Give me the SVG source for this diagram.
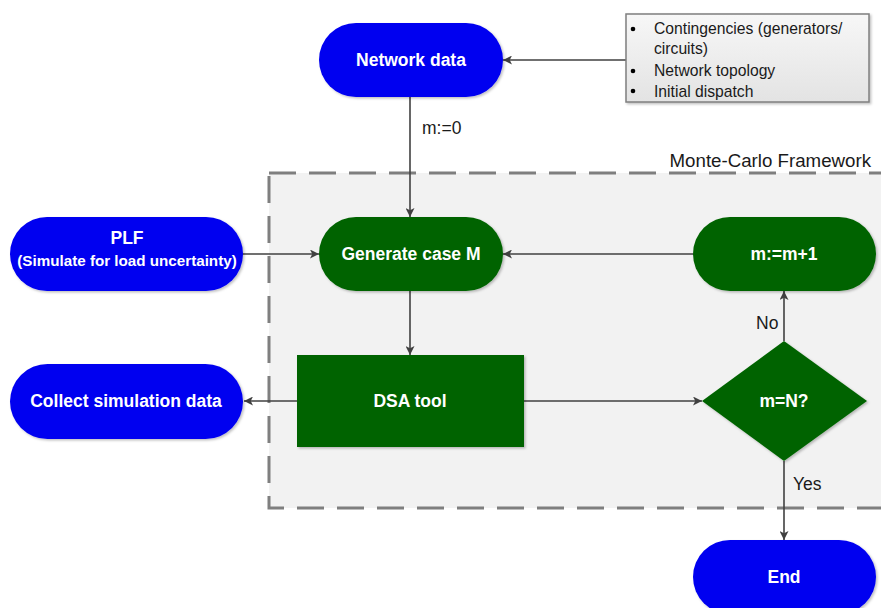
<svg xmlns="http://www.w3.org/2000/svg" width="881" height="608" viewBox="0 0 881 608">
  <style>
    .blue { fill: #0000f0; }
    .green { fill: #006400; }
    .lbl { font-family: "Liberation Sans", Arial, sans-serif; font-weight: bold; font-size: 17.5px; fill: #ffffff; text-anchor: middle; }
    .note { font-family: "Liberation Sans", Arial, sans-serif; font-size: 17.5px; fill: #1a1a1a; }
    .bullet { font-family: "Liberation Sans", Arial, sans-serif; font-size: 15.7px; fill: #1a1a1a; }
    .edge { stroke: #404040; stroke-width: 1.6; fill: none; marker-end: url(#arrow); }
  </style>
  <defs>
    <marker id="arrow" viewBox="0 0 10 10" refX="10" refY="5" markerWidth="9" markerHeight="9" markerUnits="userSpaceOnUse" orient="auto">
      <path d="M0,0 L10,5 L0,10 L2.5,5 Z" fill="#404040"/>
    </marker>
    <linearGradient id="noteFill" x1="0" y1="0" x2="0" y2="1">
      <stop offset="0" stop-color="#f7f7f7"/>
      <stop offset="1" stop-color="#e3e3e3"/>
    </linearGradient>
    <filter id="shadow" x="-10%" y="-10%" width="130%" height="140%">
      <feDropShadow dx="1.5" dy="1.5" stdDeviation="1" flood-color="#000000" flood-opacity="0.25"/>
    </filter>
  </defs>

  <!-- Monte-Carlo framework region -->
  <g id="framework">
    <rect x="269" y="173" width="640" height="335" fill="#f2f2f2" stroke="#7f7f7f" stroke-width="3" stroke-dasharray="27 13"/>
    <text class="note" x="871" y="167" text-anchor="end" style="font-size:18.7px">Monte-Carlo Framework</text>
  </g>

  <!-- connectors -->
  <g id="connectors">
    <line class="edge" x1="626" y1="60" x2="503" y2="60"/>
    <line class="edge" x1="410" y1="97" x2="410" y2="217"/>
    <line class="edge" x1="243" y1="254" x2="319" y2="254"/>
    <line class="edge" x1="693" y1="254" x2="503" y2="254"/>
    <line class="edge" x1="410" y1="291" x2="410" y2="355" stroke-width="1.2"/>
    <line class="edge" x1="297" y1="401" x2="244" y2="401"/>
    <line class="edge" x1="524" y1="401" x2="702" y2="401"/>
    <line class="edge" x1="784" y1="341" x2="784" y2="291"/>
    <line class="edge" x1="784" y1="461" x2="784" y2="540"/>
    <text class="note" x="422" y="134">m:=0</text>
    <text class="note" x="756" y="329">No</text>
    <text class="note" x="793" y="490">Yes</text>
  </g>

  <g id="notes">
    <rect x="626" y="14" width="243" height="88" fill="url(#noteFill)" stroke="#7f7f7f" stroke-width="1.5" filter="url(#shadow)"/>
    <g class="bullet">
      <circle cx="633" cy="29" r="2.3" fill="#000"/>
      <text x="654" y="34">Contingencies (generators/</text>
      <text x="654" y="54">circuits)</text>
      <circle cx="633" cy="71" r="2.3" fill="#000"/>
      <text x="654" y="76">Network topology</text>
      <circle cx="633" cy="91" r="2.3" fill="#000"/>
      <text x="654" y="97">Initial dispatch</text>
    </g>
  </g>

  <g id="network-data">
    <rect class="blue" x="319" y="23" width="184" height="74" rx="37" filter="url(#shadow)"/>
    <text class="lbl" x="411" y="66">Network data</text>
  </g>

  <g id="plf">
    <rect class="blue" x="10" y="217" width="233" height="74" rx="37" filter="url(#shadow)"/>
    <text class="lbl" x="127" y="244">PLF</text>
    <text class="lbl" x="127" y="266" style="font-size:15.2px">(Simulate for load uncertainty)</text>
  </g>

  <g id="generate-case">
    <rect class="green" x="319" y="217" width="184" height="74" rx="37" filter="url(#shadow)"/>
    <text class="lbl" x="411" y="260">Generate case M</text>
  </g>

  <g id="increment">
    <rect class="green" x="693" y="217" width="183" height="74" rx="37" filter="url(#shadow)"/>
    <text class="lbl" x="784" y="260">m:=m+1</text>
  </g>

  <g id="dsa-tool">
    <rect class="green" x="297" y="355" width="227" height="92" filter="url(#shadow)"/>
    <text class="lbl" x="410" y="407">DSA tool</text>
  </g>

  <g id="collect">
    <rect class="blue" x="10" y="364" width="233" height="75" rx="37.5" filter="url(#shadow)"/>
    <text class="lbl" x="126" y="407">Collect simulation data</text>
  </g>

  <g id="decision">
    <polygon class="green" points="702,401 784,341 867,401 784,461" filter="url(#shadow)"/>
    <text class="lbl" x="784" y="407">m=N?</text>
  </g>

  <g id="end">
    <rect class="blue" x="693" y="540" width="183" height="74" rx="37" filter="url(#shadow)"/>
    <text class="lbl" x="784" y="583">End</text>
  </g>
</svg>
